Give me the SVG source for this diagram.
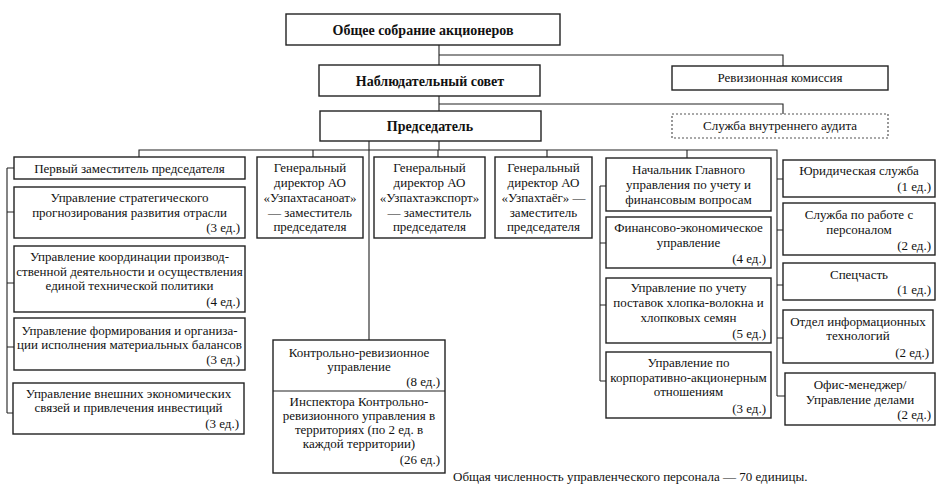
<svg xmlns="http://www.w3.org/2000/svg" width="940" height="497" viewBox="0 0 940 497" font-family="'Liberation Serif', 'DejaVu Serif', serif">
<style>
.b{fill:#fff;stroke:#222;stroke-width:1.4}
.d{fill:#fff;stroke:#555;stroke-width:1.2;stroke-dasharray:2,2}
.c{fill:none;stroke:#222;stroke-width:1.1}
text{font-family:'Liberation Serif','DejaVu Serif',serif;font-size:13px;fill:#111}
.t{text-anchor:middle}
.r{text-anchor:end}
.h{font-size:14px;font-weight:bold;text-anchor:middle}
</style>
<rect width="940" height="497" fill="#fff"/>
<g id="connectors">
<path class="c" d="M439 45V65M439 55H783V66"/>
<path class="c" d="M439 96V111M439 104H783V114"/>
<path class="c" d="M439 141V150M369 141V340"/>
<path class="c" d="M139 157V150H777V396"/>
<path class="c" d="M313 150V157M438 150V157M547 150V157M687 150V158"/>
<path class="c" d="M7 168V413M7 168H14M7 212H14M7 283H14M7 347H14M7 413H14"/>
<path class="c" d="M600 186V381M600 186H606M600 243H606M600 305H606M600 381H606"/>
<path class="c" d="M777 179H783M777 230H783M777 285H783M777 338H783M777 396H785"/>
</g>
<g id="n-gsm"><rect class="b" x="286" y="14" width="274" height="31"/><text class="h" x="423" y="35">Общее собрание акционеров</text></g>
<g id="n-ns"><rect class="b" x="319" y="65" width="221" height="31"/><text class="h" x="430" y="86">Наблюдательный совет</text></g>
<g id="n-rk"><rect class="b" x="672" y="66" width="216" height="24"/><text class="t" x="780" y="82">Ревизионная комиссия</text></g>
<g id="n-pred"><rect class="b" x="320" y="111" width="221" height="30"/><text class="h" x="430" y="131">Председатель</text></g>
<g id="n-audit"><rect class="d" x="672" y="114" width="216" height="24"/><text class="t" x="780" y="130">Служба внутреннего аудита</text></g>

<g id="n-first"><rect class="b" x="14" y="157" width="231" height="22"/><text class="t" x="129.5" y="172.5">Первый заместитель председателя</text></g>
<g id="n-strat"><rect class="b" x="14" y="187" width="231" height="51"/><text class="t" x="129.5" y="202">Управление стратегического</text><text class="t" x="129.5" y="217">прогнозирования развития отрасли</text><text class="r" x="240" y="232">(3 ед.)</text></g>
<g id="n-coord"><rect class="b" x="14" y="246" width="231" height="66"/><text class="t" x="129.5" y="261">Управление координации производ-</text><text class="t" x="129.5" y="276">ственной деятельности и осуществления</text><text class="t" x="129.5" y="290">единой технической политики</text><text class="r" x="240" y="306">(4 ед.)</text></g>
<g id="n-form"><rect class="b" x="14" y="318" width="231" height="52"/><text class="t" x="129.5" y="335">Управление формирования и организа-</text><text class="t" x="129.5" y="349">ции исполнения материальных балансов</text><text class="r" x="240" y="364">(3 ед.)</text></g>
<g id="n-ext"><rect class="b" x="13" y="383" width="231" height="51"/><text class="t" x="128.5" y="398">Управление внешних экономических</text><text class="t" x="128.5" y="412">связей и привлечения инвестиций</text><text class="r" x="239" y="428">(3 ед.)</text></g>

<g id="n-gd1"><rect class="b" x="257" y="157" width="106" height="81"/><text class="t" x="310" y="172">Генеральный</text><text class="t" x="310" y="187">директор АО</text><text class="t" x="310" y="202">«Узпахтасаноат»</text><text class="t" x="310" y="217">— заместитель</text><text class="t" x="310" y="231">председателя</text></g>
<g id="n-gd2"><rect class="b" x="374" y="157" width="111" height="81"/><text class="t" x="429.5" y="172">Генеральный</text><text class="t" x="429.5" y="187">директор АО</text><text class="t" x="429.5" y="202">«Узпахтаэкспорт»</text><text class="t" x="429.5" y="217">— заместитель</text><text class="t" x="429.5" y="231">председателя</text></g>
<g id="n-gd3"><rect class="b" x="495" y="157" width="97" height="81"/><text class="t" x="543.5" y="172">Генеральный</text><text class="t" x="543.5" y="187">директор АО</text><text class="t" x="543.5" y="202">«Узпахтаёг» —</text><text class="t" x="543.5" y="217">заместитель</text><text class="t" x="543.5" y="231">председателя</text></g>

<g id="n-kru"><rect class="b" x="273" y="340" width="172" height="133"/><line class="c" x1="273" y1="391" x2="445" y2="391"/><text class="t" x="359" y="357">Контрольно-ревизионное</text><text class="t" x="359" y="371">управление</text><text class="r" x="440" y="386">(8 ед.)</text><text class="t" x="359" y="406">Инспектора Контрольно-</text><text class="t" x="359" y="420">ревизионного управления в</text><text class="t" x="359" y="434">территориях (по 2 ед. в</text><text class="t" x="359" y="448">каждой территории)</text><text class="r" x="440" y="464">(26 ед.)</text></g>

<g id="n-nach"><rect class="b" x="606" y="158" width="165" height="53"/><text class="t" x="688.5" y="174">Начальник Главного</text><text class="t" x="688.5" y="189">управления по учету и</text><text class="t" x="688.5" y="204">финансовым вопросам</text></g>
<g id="n-fin"><rect class="b" x="606" y="217" width="165" height="51"/><text class="t" x="688.5" y="232">Финансово-экономическое</text><text class="t" x="688.5" y="247">управление</text><text class="r" x="766" y="263">(4 ед.)</text></g>
<g id="n-cotton"><rect class="b" x="606" y="278" width="165" height="65"/><text class="t" x="688.5" y="292">Управление по учету</text><text class="t" x="688.5" y="307">поставок хлопка-волокна и</text><text class="t" x="688.5" y="322">хлопковых семян</text><text class="r" x="766" y="338">(5 ед.)</text></g>
<g id="n-corp"><rect class="b" x="606" y="352" width="165" height="66"/><text class="t" x="688.5" y="367">Управление по</text><text class="t" x="688.5" y="382">корпоративно-акционерным</text><text class="t" x="688.5" y="396">отношениям</text><text class="r" x="766" y="413">(3 ед.)</text></g>

<g id="n-law"><rect class="b" x="783" y="160" width="152" height="37"/><text class="t" x="859" y="175">Юридическая служба</text><text class="r" x="931" y="191">(1 ед.)</text></g>
<g id="n-hr"><rect class="b" x="783" y="203" width="152" height="52"/><text class="t" x="859" y="219">Служба по работе с</text><text class="t" x="859" y="234">персоналом</text><text class="r" x="931" y="250">(2 ед.)</text></g>
<g id="n-spec"><rect class="b" x="783" y="263" width="152" height="37"/><text class="t" x="859" y="279">Спецчасть</text><text class="r" x="931" y="294">(1 ед.)</text></g>
<g id="n-it"><rect class="b" x="783" y="310" width="150" height="53"/><text class="t" x="858" y="326">Отдел информационных</text><text class="t" x="858" y="340">технологий</text><text class="r" x="929" y="357">(2 ед.)</text></g>
<g id="n-office"><rect class="b" x="785" y="373" width="150" height="52"/><text class="t" x="860" y="389">Офис-менеджер/</text><text class="t" x="860" y="404">Управление делами</text><text class="r" x="931" y="419">(2 ед.)</text></g>

<text x="453" y="481">Общая численность управленческого персонала — 70 единицы.</text>
</svg>
